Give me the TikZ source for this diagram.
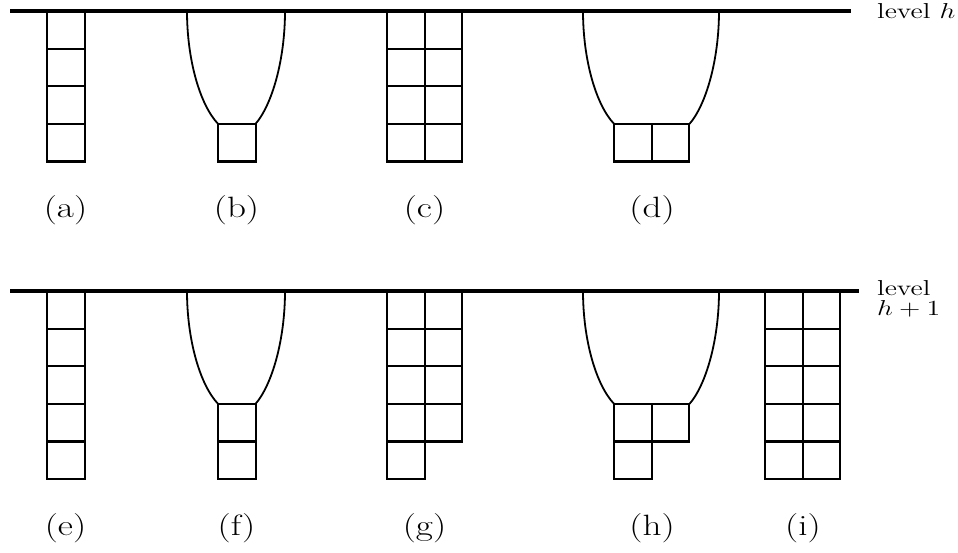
\documentclass[tikz,border=0pt]{standalone}
\begin{document}
\begin{tikzpicture}[x=1pt,y=-1pt,
  levelline/.style={line width=3.1pt},
  cellline/.style={line width=2.2pt},
  curveline/.style={line width=1.8pt},
  lab/.style={inner sep=0pt},
  lvl/.style={inner sep=0pt}]
\useasboundingbox (0,0) rectangle (958,552);
\newcommand\sqcell[2]{\draw[cellline] (#1,#2) rectangle ++(37.6,37.6);}
\newcommand\funnelshape[4]{% xl xr ytop ybot
  \draw[curveline] (#1,#3) .. controls (#1,#3+49) and ({#1+13},#4-19) .. ({#1+31},#4);
  \draw[curveline] (#2,#3) .. controls (#2,#3+49) and ({#2-13},#4-19) .. ({#2-29.4},#4);}
\newcommand\labtext[1]{\scalebox{2.15}[1.7]{\fontsize{17.28}{20}\selectfont #1}}
\newcommand\lvltext[1]{\scalebox{2.33}[1.8]{\fontsize{12}{11.1}\selectfont #1}}
% level lines
\coordinate (L1a) at (10,11);
\coordinate (L1b) at (851,11);
\coordinate (L2a) at (10,291);
\coordinate (L2b) at (859,291);
% ---------- top row ----------
\foreach \r in {0,...,3} {\sqcell{47}{11+37.6*\r}}
\funnelshape{187}{285}{11}{123.8}
\sqcell{218}{123.8}
\foreach \r in {0,...,3} {\sqcell{387}{11+37.6*\r}\sqcell{424.6}{11+37.6*\r}}
\funnelshape{583}{719}{11}{123.8}
\sqcell{614}{123.8}\sqcell{651.6}{123.8}
\draw[levelline] (L1a) -- (L1b);
\node[lvl, anchor=base west] (lvlh) at (877,18) {\lvltext{level $h$}};
\node[lab] (la) at (65.5,210) {\labtext{(a)}};
\node[lab] (lb) at (236.5,210) {\labtext{(b)}};
\node[lab] (lc) at (424.5,210) {\labtext{(c)}};
\node[lab] (ld) at (652,210) {\labtext{(d)}};
% ---------- bottom row ----------
\foreach \r in {0,...,4} {\sqcell{47}{291+37.6*\r}}
\funnelshape{187}{285}{291}{403.8}
\sqcell{218}{403.8}\sqcell{218}{441.4}
\foreach \r in {0,...,4} {\sqcell{387}{291+37.6*\r}}
\foreach \r in {0,...,3} {\sqcell{424.6}{291+37.6*\r}}
\funnelshape{583}{719}{291}{403.8}
\sqcell{614}{403.8}\sqcell{651.6}{403.8}\sqcell{614}{441.4}
\foreach \r in {0,...,4} {\sqcell{765}{291+37.6*\r}\sqcell{802.6}{291+37.6*\r}}
\draw[levelline] (L2a) -- (L2b);
\node[lvl, anchor=base west] (lvlh1) at (877,315)
  {\lvltext{\vbox{\hbox{level}\hbox{$h+1$}}}};
\node[lab] (le) at (65.5,528) {\labtext{(e)}};
\node[lab] (lf) at (236.5,528) {\labtext{(f)}};
\node[lab] (lg) at (424.5,528) {\labtext{(g)}};
\node[lab] (lh) at (652,528) {\labtext{(h)}};
\node[lab] (li) at (803,528) {\labtext{(i)}};
\end{tikzpicture}
\end{document}
